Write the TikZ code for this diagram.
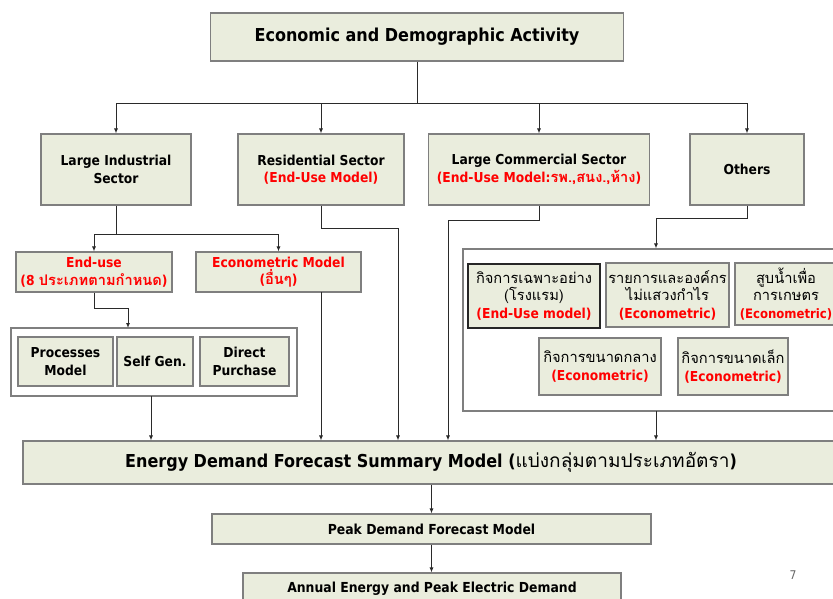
\documentclass[tikz,border=0pt]{standalone}
\usepackage{fontspec}
\usetikzlibrary{arrows.meta}
\newfontfamily\tah{DejaVu Sans Condensed}
\newfontfamily\thaifont[Script=Thai,Scale=1.07]{Loma}
\definecolor{boxfill}{HTML}{EAEDDD}
\definecolor{boxline}{HTML}{7F7F7F}
\definecolor{lineclr}{HTML}{2A2A2A}
\definecolor{redtxt}{HTML}{FF0000}
\newcommand\setfs[2]{\fontsize{#1}{#2}\selectfont}
\newcommand\redt[1]{\textcolor{redtxt}{#1}}
\newcommand\thx[1]{{\thaifont #1}}
\tikzset{
  wh/.style 2 args={minimum width=#1pt, minimum height=#2pt},
  box/.style={draw=boxline, fill=boxfill, line width=1.1pt, inner sep=0pt,
    align=center, font=\tah\bfseries\setfs{13.7}{17.5}},
  grp/.style={draw=boxline, fill=white, line width=1.1pt, inner sep=0pt},
  conn/.style={draw=lineclr, line width=0.9pt},
  arr/.style={conn, -{Latex[length=5pt,width=4pt]}},
}
\begin{document}
\begin{tikzpicture}[x=1pt,y=-1pt]
\useasboundingbox (0,0) rectangle (833,599);
\clip (0,0) rectangle (833,599);
\fill[white] (0,0) rectangle (833,599);

% top level
\node[box, wh={413}{48}, font=\tah\bfseries\setfs{17.8}{20}] (top) at (417,37)
  {Economic and Demographic Activity};

% sectors
\node[box, wh={150}{71}] (ind) at (116,169.5) {Large Industrial\\Sector};
\node[box, wh={166}{71}] (res) at (321,169.5)
  {Residential Sector\\\redt{(End-Use Model)}};
\node[box, wh={221}{71}] (com) at (539,169.5)
  {Large Commercial Sector\\\redt{(End-Use Model:\thx{รพ.,สนง.,ห้าง})}};
\node[box, wh={114}{71}] (oth) at (747,169.5) {Others};

% industrial models
\node[box, wh={156}{40}] (enduse) at (94,272)
  {\redt{End-use}\\\redt{(8 \thx{\bfseries ประเภทตามกำหนด})}};
\node[box, wh={165}{40}] (econ) at (278.5,272)
  {\redt{Econometric Model}\\\redt{(\thx{\bfseries อื่นๆ})}};

% industrial end-use group
\node[grp, wh={286}{68}] (grp1) at (154,362) {};
\node[box, wh={95}{49}] (proc) at (65.5,361.5) {Processes\\Model};
\node[box, wh={76}{49}] (self) at (155,361.5) {Self Gen.};
\node[box, wh={89}{49}] (direct) at (244.5,361.5) {Direct\\Purchase};

% others group
\node[grp, wh={382}{162}] (grp2) at (654,330) {};
\node[box, wh={132}{64}, draw=black!85] (t1) at (534,296)
  {\thx{\mdseries กิจการเฉพาะอย่าง}\\\thx{\mdseries (โรงแรม)}\\\redt{(End-Use model)}};
\node[box, wh={123}{64}] (t2) at (667.5,295)
  {\thx{\mdseries รายการและองค์กร}\\\thx{\mdseries ไม่แสวงกำไร}\\\redt{(Econometric)}};
\node[box, wh={102}{62}] (t3) at (786,294)
  {\thx{\mdseries สูบน้ำเพื่อ}\\\thx{\mdseries การเกษตร}\\\redt{\setfs{13}{17.5}(Econometric)}};
\node[box, wh={122}{57}] (t4) at (600,366.5)
  {\thx{\mdseries กิจการขนาดกลาง}\\\redt{(Econometric)}};
\node[box, wh={110}{57}] (t5) at (733,366.5)
  {\thx{\mdseries กิจการขนาดเล็ก}\\\redt{(Econometric)}};

% summary chain
\node[box, wh={816}{43}, font=\tah\bfseries\setfs{17.8}{20}] (sum) at (431,462.5)
  {Energy Demand Forecast Summary Model (\thx{\mdseries แบ่งกลุ่มตามประเภทอัตรา})};
\node[box, wh={439}{30}, font=\tah\bfseries\setfs{13.8}{15}] (peak) at (431.5,529)
  {Peak Demand Forecast Model};
\node[box, wh={378}{32}, font=\tah\bfseries\setfs{13.8}{15}] (annual) at (432,589)
  {Annual Energy and Peak Electric Demand};

\node[font=\tah\setfs{12}{14}, text=black!60] (pnum) at (793,575) {7};

% connectors: top level to sectors
\coordinate (bus) at (417,103);
\draw[conn] (top.south) -- (bus);
\draw[arr] (bus) -| (ind.north);
\draw[arr] (bus) -| (res.north);
\draw[arr] (bus) -| (com.north);
\draw[arr] (bus) -| (oth.north);

% industrial branch
\coordinate (indbus) at (116,234);
\draw[conn] (ind.south) -- (indbus);
\draw[arr] (indbus) -| (enduse.north);
\draw[arr] (indbus) -| (econ.north);
\coordinate (eubend) at (94,308);
\coordinate (grp1in) at (128,328);
\draw[arr] (enduse.south) -- (eubend) -| (grp1in);
\coordinate (grp1out) at (151,396);
\draw[arr] (grp1out) -- (grp1out |- sum.north);
\coordinate (econout) at (321,292);
\draw[arr] (econout) -- (econout |- sum.north);

% residential and commercial
\coordinate (resbend) at (321,228);
\coordinate (resdown) at (398,228);
\draw[arr] (res.south) -- (resbend) -- (resdown) -- (resdown |- sum.north);
\coordinate (combend) at (539,220);
\coordinate (comdown) at (448,220);
\draw[arr] (com.south) -- (combend) -- (comdown) -- (comdown |- sum.north);

% others
\coordinate (othbend) at (747,218);
\coordinate (othdown) at (656,218);
\draw[arr] (oth.south) -- (othbend) -- (othdown) -- (othdown |- grp2.north);
\coordinate (grp2out) at (656,411);
\draw[arr] (grp2out) -- (grp2out |- sum.north);

% summary chain
\draw[arr] (sum.south -| peak.north) -- (peak.north);
\draw[arr] (peak.south) -- (peak.south |- annual.north);
\end{tikzpicture}
\end{document}
